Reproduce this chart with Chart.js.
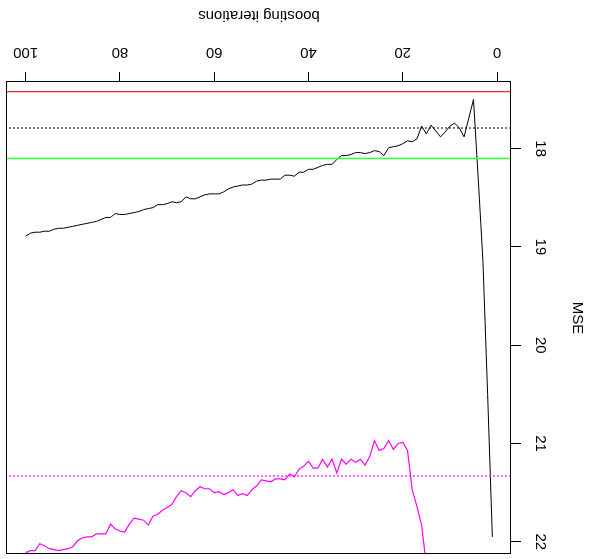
<!DOCTYPE html>
<html>
<head>
<meta charset="utf-8">
<script src="https://cdn.jsdelivr.net/npm/chart.js@4.4.1/dist/chart.umd.min.js"></script>
<style>
  html, body { margin: 0; padding: 0; background: #fff; }
  /* the reference plot is upside down, so the whole canvas is turned round */
  #wrap { width: 595px; height: 559px; transform: rotate(180deg); }
</style>
</head>
<body>
<div id="wrap"><canvas id="mseChart" width="595" height="559"></canvas></div>
<script>
// boosting iterations 1..100
const iterations = Array.from({ length: 100 }, (_, i) => i + 1);

// black curve
const blackMSE = [
  21.95, 20.50, 19.14, 18.30, 17.50, 17.69, 17.88, 17.79, 17.74, 17.77,
  17.83, 17.88, 17.82, 17.76, 17.85, 17.77, 17.90, 17.93, 17.92, 17.95,
  17.97, 17.98, 17.99, 18.07, 18.03, 18.02, 18.04, 18.05, 18.04, 18.04,
  18.06, 18.07, 18.07, 18.11, 18.16, 18.16, 18.17, 18.19, 18.21, 18.21,
  18.24, 18.24, 18.28, 18.27, 18.27, 18.31, 18.31, 18.31, 18.32, 18.32,
  18.33, 18.36, 18.37, 18.37, 18.38, 18.39, 18.41, 18.44, 18.46, 18.46,
  18.46, 18.47, 18.49, 18.51, 18.51, 18.49, 18.54, 18.55, 18.54, 18.56,
  18.57, 18.57, 18.60, 18.61, 18.62, 18.64, 18.65, 18.66, 18.67, 18.67,
  18.66, 18.70, 18.70, 18.72, 18.74, 18.75, 18.76, 18.77, 18.78, 18.79,
  18.80, 18.81, 18.81, 18.82, 18.84, 18.84, 18.85, 18.85, 18.86, 18.89
];

// magenta curve (first iterations lie above the plotted range)
const magentaMSE = [
  null, null, null, null, null, null, null, null, null, null,
  null, null, null, null, 22.24, 21.83, 21.64, 21.47, 21.07, 20.99,
  21.00, 21.06, 20.97, 21.05, 21.07, 20.97, 21.13, 21.22, 21.16, 21.19,
  21.16, 21.21, 21.16, 21.30, 21.16, 21.24, 21.16, 21.25, 21.25, 21.18,
  21.23, 21.26, 21.34, 21.31, 21.37, 21.36, 21.36, 21.39, 21.38, 21.37,
  21.43, 21.47, 21.53, 21.51, 21.53, 21.47, 21.50, 21.52, 21.49, 21.50,
  21.46, 21.46, 21.44, 21.48, 21.54, 21.50, 21.48, 21.54, 21.62, 21.65,
  21.68, 21.72, 21.74, 21.83, 21.78, 21.77, 21.76, 21.82, 21.90, 21.89,
  21.87, 21.82, 21.92, 21.92, 21.92, 21.95, 21.95, 21.96, 21.99, 22.05,
  22.07, 22.08, 22.09, 22.08, 22.07, 22.04, 22.02, 22.09, 22.09, 22.11
];

// horizontal reference lines
const redLine = 17.42;
const blackDotLine = 17.79;
const greenLine = 18.10;
const magentaDotLine = 21.33;

const xTicks = [0, 20, 40, 60, 80, 100];
const yTicks = [18, 19, 20, 21, 22];

// R style limits: data range plus 4% each side
const xMin = -2.96, xMax = 103.96;
const yMin = 17.322, yMax = 22.124;

const font = { family: "'Liberation Sans', Arial, sans-serif", size: 15 };

function toPoints(vals) {
    return vals.map((v, i) => ({ x: iterations[i], y: v }));
}
function hline(v, color, width, dash) {
    return {
        data: [{ x: xMin, y: v }, { x: xMax, y: v }],
        borderColor: color,
        borderWidth: width,
        borderDash: dash,
        pointRadius: 0
    };
}

const boxPlugin = {
    id: 'box',
    afterDraw(chart) {
        const { ctx, chartArea: a } = chart;
        ctx.save();
        ctx.strokeStyle = '#000';
        ctx.lineWidth = 1;
        ctx.strokeRect(Math.round(a.left) + 0.5, Math.round(a.top) + 0.5,
            Math.round(a.right - a.left), Math.round(a.bottom - a.top));
        ctx.restore();
    }
};

new Chart(document.getElementById('mseChart'), {
    type: 'line',
    data: {
        datasets: [
            hline(redLine, '#ff2020', 1.2, []),
            hline(blackDotLine, '#000000', 1, [2, 2]),
            hline(greenLine, '#33ff33', 1.6, []),
            hline(magentaDotLine, '#ff00ff', 1.2, [2, 2]),
            { data: toPoints(blackMSE), borderColor: '#000', borderWidth: 1, pointRadius: 0, tension: 0 },
            { data: toPoints(magentaMSE), borderColor: '#ff00ff', borderWidth: 1.2, pointRadius: 0, tension: 0 }
        ]
    },
    options: {
        responsive: false,
        animation: false,
        devicePixelRatio: 1,
        layout: { padding: { left: 0, right: 7, top: 5, bottom: 0 } },
        plugins: { legend: { display: false }, tooltip: { enabled: false } },
        scales: {
            x: {
                type: 'linear',
                position: 'bottom',
                min: xMin,
                max: xMax,
                afterBuildTicks: s => { s.ticks = xTicks.map(v => ({ value: v })); },
                afterFit: s => { s.height = 82; s.paddingLeft = 0; s.paddingRight = 0; },
                border: { display: false },
                grid: { drawOnChartArea: false, drawTicks: true, tickLength: 10, color: '#000' },
                ticks: { color: '#000', font: font, padding: 11, maxRotation: 0 },
                title: { display: true, text: 'boosting iterations', color: '#000', font: font, padding: { top: 0, bottom: 6 } }
            },
            y: {
                type: 'linear',
                position: 'left',
                min: yMin,
                max: yMax,
                afterBuildTicks: s => { s.ticks = yTicks.map(v => ({ value: v })); },
                afterFit: s => { s.width = 84; s.paddingTop = 0; s.paddingBottom = 0; },
                border: { display: false },
                grid: { drawOnChartArea: false, drawTicks: true, tickLength: 10, color: '#000' },
                ticks: { color: '#000', font: font, padding: 11, minRotation: 90, maxRotation: 90, crossAlign: 'center' },
                title: { display: true, text: 'MSE', color: '#000', font: font, padding: { top: 8.5, bottom: 0 } }
            }
        }
    },
    plugins: [boxPlugin]
});
</script>
</body>
</html>
